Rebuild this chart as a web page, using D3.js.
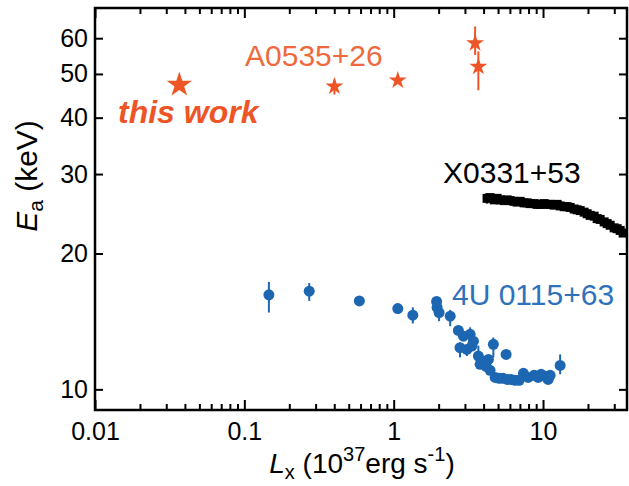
<!DOCTYPE html>
<html><head><meta charset="utf-8">
<script src="https://cdn.jsdelivr.net/npm/d3@7"></script>
<style>
html,body{margin:0;padding:0;background:#fff;}
svg{display:block;font-family:"Liberation Sans",Arial,Helvetica,sans-serif;}
</style></head>
<body>
<svg id="chart" width="629" height="486"></svg>
<script>
// ---- data ----
const xTickValues = [0.01, 0.1, 1, 10];
const xTickLabels = ["0.01", "0.1", "1", "10"];
const yTickValues = [10, 20, 30, 40, 50, 60];

// this work (star)
const thisWorkL = [0.0367];
const thisWorkE = [47.3];

// A0535+26 (stars)
const a0535L  = [0.401, 1.065, 3.51, 3.69];
const a0535E  = [46.9, 48.4, 58.5, 51.9];
const a0535Lo = [45.0, 47.8, 55.1, 46.0];
const a0535Hi = [48.6, 49.0, 63.7, 56.1];

// 4U 0115+63 (circles)
const u0115L  = [0.146, 0.272, 0.589, 1.065, 1.343, 1.938, 1.953, 2.014, 2.39, 2.71,
                 2.93, 3.25, 3.42, 2.78, 3.09, 3.34, 3.69, 4.65, 3.79, 4.31,
                 4.04, 4.16, 4.42, 5.66, 4.78, 5.08, 5.40, 5.75, 6.11, 6.50,
                 6.92, 7.39, 7.95, 8.72, 9.27, 9.71, 10.33, 10.82, 11.16, 13.02];
const u0115E  = [16.2, 16.5, 15.7, 15.1, 14.6, 15.66, 15.19, 14.80, 14.53, 13.51,
                 13.12, 13.24, 12.79, 12.37, 12.26, 12.47, 11.85, 12.58, 11.36, 11.65,
                 11.53, 11.24, 11.02, 11.95, 10.63, 10.58, 10.58, 10.52, 10.52, 10.47,
                 10.47, 10.85, 10.63, 10.74, 10.63, 10.80, 10.69, 10.52, 10.74, 11.30];
const u0115Lo = [14.8, 15.7, 15.6, 14.7, 14.0, 15.5, 15.0, 14.16, 13.8, 13.4,
                 13.0, 12.9, 12.7, 11.77, 11.85, 12.4, 11.75, 11.77, 11.3, 11.55,
                 11.45, 11.15, 10.95, 11.85, 10.55, 10.5, 10.5, 10.45, 10.45, 10.4,
                 10.4, 10.75, 10.55, 10.65, 10.55, 10.7, 10.6, 10.45, 10.65, 10.80];
const u0115Hi = [17.3, 17.2, 15.8, 15.5, 15.2, 15.8, 15.4, 15.4, 15.0, 13.6,
                 13.25, 13.72, 12.9, 12.7, 12.4, 12.6, 12.5, 13.03, 11.45, 11.75,
                 11.6, 11.35, 11.1, 12.05, 10.7, 10.65, 10.65, 10.6, 10.6, 10.55,
                 10.55, 10.95, 10.7, 10.85, 10.7, 10.9, 10.78, 10.6, 10.82, 11.95];

// X0331+53 (squares)
const x0331L = [4.22, 4.42, 4.71, 4.93, 5.16, 5.49, 5.75, 6.02, 6.40, 6.71,
                7.03, 7.47, 7.83, 8.20, 8.72, 9.13, 9.56, 10.17, 10.65, 11.16,
                11.87, 12.43, 13.02, 13.85, 14.50, 15.19, 16.16, 16.92, 17.73, 18.85,
                19.74, 20.68, 21.99, 23.04, 24.13, 25.66, 26.88, 28.15, 29.94, 31.36,
                32.85, 34.41];
const x0331E = [26.5, 26.6, 26.3, 26.5, 26.3, 26.2, 26.3, 26.2, 26.1, 26.0,
                26.1, 25.9, 25.9, 25.8, 25.8, 25.7, 25.7, 25.8, 25.7, 25.7,
                25.6, 25.7, 25.5, 25.4, 25.4, 25.3, 25.1, 25.0, 24.9, 24.7,
                24.5, 24.3, 24.2, 23.9, 23.8, 23.5, 23.3, 23.1, 22.8, 22.7,
                22.5, 22.2];
const x0331Err = [0.7, 0.5, 0.45, 0.4, 0.4, 0.4, 0.4, 0.4, 0.4, 0.4,
                  0.4, 0.4, 0.4, 0.4, 0.4, 0.4, 0.4, 0.4, 0.4, 0.4,
                  0.4, 0.4, 0.4, 0.4, 0.4, 0.4, 0.4, 0.4, 0.4, 0.4,
                  0.4, 0.4, 0.4, 0.4, 0.4, 0.4, 0.4, 0.4, 0.4, 0.4,
                  0.4, 0.4];

const labelA0535 = "A0535+26";
const labelThisWork = "this work";
const labelX0331 = "X0331+53";
const labelU0115 = "4U 0115+63";

// ---- layout ----
const W = 629, H = 486;
const L = 95, R = 627, T = 8, B = 410;
const ORANGE = "#EE5526", ORANGE_TXT = "#EE6A3C";
const BLUE = "#1C66B2", BLUE_TXT = "#2E72BC";

const svg = d3.select("#chart");
const x = d3.scaleLog().domain([0.01, 36.5]).range([L, R]);
const y = d3.scaleLog().domain([9, 70]).range([B, T]);

// minor x ticks
const xMinor = [];
for (let d = 0.01; d < 40; d *= 10) {
  for (let k = 2; k <= 9; k++) { const v = d * k; if (v <= 36.5) xMinor.push(v); }
}

const axisStyle = g => {
  g.select(".domain").remove();
  g.selectAll(".tick line").attr("stroke", "#000").attr("stroke-width", 2);
  g.selectAll(".tick text").attr("fill", "#000").style("font-size", "25px")
    .style("font-family", '"Liberation Sans",Arial,sans-serif');
};

// bottom axis
svg.append("g").attr("transform", `translate(0,${B})`)
  .call(d3.axisBottom(x).tickValues(xTickValues).tickSize(-10).tickPadding(12)
        .tickFormat((d, i) => xTickLabels[i]))
  .call(axisStyle)
  .call(g => g.selectAll(".tick text").attr("dy", "0.71em"));
svg.append("g").attr("transform", `translate(0,${B})`)
  .call(d3.axisBottom(x).tickValues(xMinor).tickSize(-6).tickFormat(""))
  .call(axisStyle);
// top axis
svg.append("g").attr("transform", `translate(0,${T})`)
  .call(d3.axisTop(x).tickValues(xTickValues).tickSize(-10).tickFormat(""))
  .call(axisStyle);
svg.append("g").attr("transform", `translate(0,${T})`)
  .call(d3.axisTop(x).tickValues(xMinor).tickSize(-6).tickFormat(""))
  .call(axisStyle);
// left axis
svg.append("g").attr("transform", `translate(${L},0)`)
  .call(d3.axisLeft(y).tickValues(yTickValues).tickSize(-8).tickPadding(7)
        .tickFormat(d3.format("d")))
  .call(axisStyle);
// right axis
svg.append("g").attr("transform", `translate(${R},0)`)
  .call(d3.axisRight(y).tickValues(yTickValues).tickSize(-8).tickFormat(""))
  .call(axisStyle);

// frame
svg.append("rect").attr("x", L).attr("y", T).attr("width", R - L).attr("height", B - T)
  .attr("fill", "none").attr("stroke", "#000").attr("stroke-width", 2.5);

// ---- data marks ----
const plot = svg.append("g");

// X0331+53
const blk = x0331L.map((l, i) => ({l, e: x0331E[i], err: x0331Err[i]}));
plot.append("g").selectAll("line").data(blk).join("line")
  .attr("x1", d => x(d.l)).attr("x2", d => x(d.l))
  .attr("y1", d => y(d.e - d.err)).attr("y2", d => y(d.e + d.err))
  .attr("stroke", "#000").attr("stroke-width", 2.5);
plot.append("g").selectAll("rect").data(blk).join("rect")
  .attr("x", d => x(d.l) - 4.5).attr("y", d => y(d.e) - 4.5)
  .attr("width", 9).attr("height", 9).attr("fill", "#000");

// 4U 0115+63
const blu = u0115L.map((l, i) => ({l, e: u0115E[i], lo: u0115Lo[i], hi: u0115Hi[i]}));
plot.append("g").selectAll("line").data(blu).join("line")
  .attr("x1", d => x(d.l)).attr("x2", d => x(d.l))
  .attr("y1", d => y(d.lo)).attr("y2", d => y(d.hi))
  .attr("stroke", BLUE).attr("stroke-width", 2);
plot.append("g").selectAll("circle").data(blu).join("circle")
  .attr("cx", d => x(d.l)).attr("cy", d => y(d.e)).attr("r", 5.5)
  .attr("fill", BLUE);

// A0535+26
const org = a0535L.map((l, i) => ({l, e: a0535E[i], lo: a0535Lo[i], hi: a0535Hi[i]}));
plot.append("g").selectAll("line").data(org).join("line")
  .attr("x1", d => x(d.l)).attr("x2", d => x(d.l))
  .attr("y1", d => y(d.lo)).attr("y2", d => y(d.hi))
  .attr("stroke", ORANGE).attr("stroke-width", 2);
const starSmall = d3.symbol().type(d3.symbolStar).size(100);
plot.append("g").selectAll("path").data(org).join("path")
  .attr("transform", d => `translate(${x(d.l)},${y(d.e)})`)
  .attr("d", starSmall).attr("fill", ORANGE);

// this work
const starBig = d3.symbol().type(d3.symbolStar).size(200);
const tw = thisWorkL.map((l, i) => ({l, e: thisWorkE[i]}));
plot.append("g").selectAll("path").data(tw).join("path")
  .attr("transform", d => `translate(${x(d.l)},${y(d.e)})`)
  .attr("d", starBig).attr("fill", ORANGE);

// ---- labels ----
svg.append("text").attr("x", 245).attr("y", 66).attr("fill", ORANGE_TXT)
  .style("font-size", "30px").text(labelA0535);
svg.append("text").attr("x", 118).attr("y", 123).attr("fill", ORANGE)
  .style("font-size", "32px").style("font-weight", "bold").style("font-style", "italic")
  .text(labelThisWork);
svg.append("text").attr("x", 443).attr("y", 183).attr("fill", "#000")
  .style("font-size", "30px").text(labelX0331);
svg.append("text").attr("x", 452).attr("y", 305).attr("fill", BLUE_TXT)
  .style("font-size", "30px").text(labelU0115);

// axis titles
const xt = svg.append("text").attr("x", 362).attr("y", 473).attr("text-anchor", "middle")
  .attr("fill", "#000").style("font-size", "28px");
xt.append("tspan").style("font-style", "italic").text("L");
xt.append("tspan").attr("dy", 6).style("font-size", "20px").text("x");
xt.append("tspan").attr("dy", -6).text(" (10");
xt.append("tspan").attr("dy", -12).style("font-size", "20px").text("37");
xt.append("tspan").attr("dy", 12).text("erg s");
xt.append("tspan").attr("dy", -12).style("font-size", "20px").text("-1");
xt.append("tspan").attr("dy", 12).text(")");

const yt = svg.append("text").attr("transform", "translate(37,176) rotate(-90)")
  .attr("text-anchor", "middle").attr("fill", "#000").style("font-size", "30px");
yt.append("tspan").style("font-style", "italic").text("E");
yt.append("tspan").attr("dy", 6).style("font-size", "21px").text("a");
yt.append("tspan").attr("dy", -6).text(" (keV)");
</script>
</body></html>
